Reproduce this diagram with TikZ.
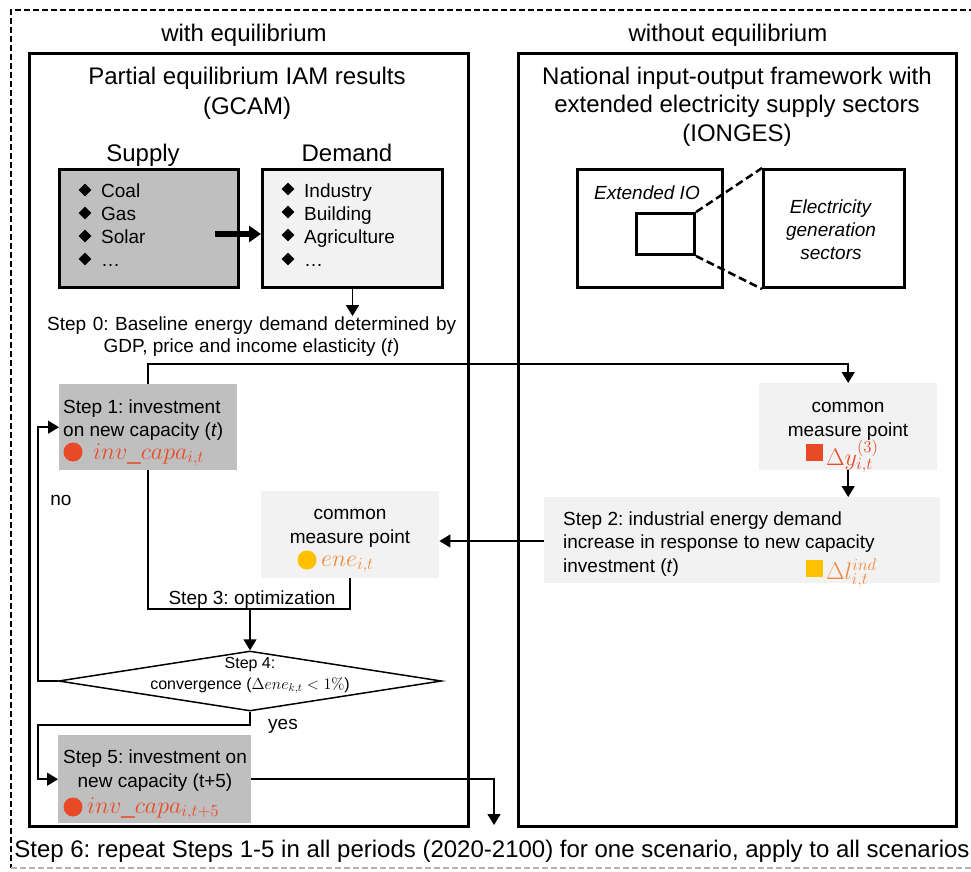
\RequirePackage{fix-cm}
\documentclass[tikz,border=0pt]{standalone}
\usepackage[no-math]{fontspec}
\setmainfont{Liberation Sans}
\usetikzlibrary{arrows.meta,shapes.geometric}
\definecolor{myred}{HTML}{E84A27}
\definecolor{myorange}{HTML}{F08A3C}
\definecolor{myyellow}{HTML}{FFC000}
\definecolor{dgray}{HTML}{BFBFBF}
\definecolor{lgray}{HTML}{F2F2F2}
\begin{document}
\frenchspacing
\begin{tikzpicture}[x=1pt,y=-1pt,
  big/.style={font=\fontsize{24}{29}\selectfont, inner sep=0pt},
  body/.style={font=\fontsize{19}{23}\selectfont, inner sep=0pt},
  small/.style={font=\fontsize{16}{19}\selectfont, inner sep=0pt},
  mathf/.style={font=\fontsize{24}{26}\selectfont, inner sep=0pt},
  thickbox/.style={draw, line width=3pt, inner sep=0pt, anchor=north west},
  fillbox/.style={inner sep=0pt, anchor=north west},
  bul/.style={diamond, fill=black, minimum width=13pt, minimum height=13pt, inner sep=0pt},
  dot/.style={circle, minimum size=19pt, inner sep=0pt},
  sq/.style={minimum size=17pt, inner sep=0pt},
  conn/.style={line width=1.5pt},
  arr/.style={conn, -{Triangle[length=11pt,width=13pt]}},
]
\useasboundingbox (0,0) rectangle (971,872);
% outer dashed frame
\draw[line width=1.2pt, dash pattern=on 6pt off 3pt] (975,10) -- (11,10) -- (11,868);
\draw[line width=1.2pt, gray!60, dash pattern=on 6pt off 3pt] (11,868) -- (975,868);

% headers
\node[big, anchor=base] (hl) at (244,42) {with equilibrium};
\node[big, anchor=base] (hr) at (728,42) {without equilibrium};

% big boxes
\node[thickbox, minimum width=439pt, minimum height=773pt] (lbox) at (28,52) {};
\node[thickbox, minimum width=438pt, minimum height=773pt] (rbox) at (517,52) {};

\node[big, anchor=base] (lt1) at (247,85) {Partial equilibrium IAM results};
\node[big, anchor=base] (lt2) at (247,114) {(GCAM)};
\node[big, anchor=base] (rt1) at (737,85) {National input-output framework with};
\node[big, anchor=base] (rt2) at (737,113) {extended electricity supply sectors};
\node[big, anchor=base] (rt3) at (737,142) {(IONGES)};

% supply / demand
\node[big, anchor=base] (supl) at (143,161) {Supply};
\node[big, anchor=base] (deml) at (347,161) {Demand};
\node[thickbox, fill=dgray, minimum width=179pt, minimum height=118pt] (sup) at (58,168) {};
\node[thickbox, fill=lgray, minimum width=180pt, minimum height=118pt] (dem) at (261,168) {};

\node[bul] (b1) at (85,190) {};
\node[bul] (b2) at (85,213) {};
\node[bul] (b3) at (85,236) {};
\node[bul] (b4) at (85,259) {};
\node[body, anchor=base west] (i1) at (101,197) {Coal};
\node[body, anchor=base west] (i2) at (101,220) {Gas};
\node[body, anchor=base west] (i3) at (101,243) {Solar};
\node[body, anchor=base west] (i4) at (101,266) {\dots};
\node[bul] (d1) at (288,189) {};
\node[bul] (d2) at (288,212) {};
\node[bul] (d3) at (288,235) {};
\node[bul] (d4) at (288,259) {};
\node[body, anchor=base west] (j1) at (304,197) {Industry};
\node[body, anchor=base west] (j2) at (304,220) {Building};
\node[body, anchor=base west] (j3) at (304,243) {Agriculture};
\node[body, anchor=base west] (j4) at (304,266) {\dots};

\coordinate (ta) at (215,234);
\draw[line width=6pt, -{Triangle[length=12pt,width=16pt]}] (ta) -- (dem.west |- ta);

% step 0
\node[body, anchor=base west] (s0a) at (47,330) {\makebox[409pt][s]{Step 0: Baseline energy demand determined by}};
\node[body, anchor=base] (s0b) at (251.5,352) {GDP, price and income elasticity (\textit{t})};
\draw[arr] (dem.south) -- (dem.south |- s0a.north);

% IO boxes
\node[thickbox, minimum width=145pt, minimum height=118pt] (eio) at (576,168) {};
\node[thickbox, minimum width=58pt, minimum height=41pt] (ins) at (635,212) {};
\node[thickbox, minimum width=141pt, minimum height=118pt] (elec) at (762,168) {};
\draw[line width=2.5pt, dash pattern=on 8pt off 4pt] (ins.north east) -- (elec.north west);
\draw[line width=2.5pt, dash pattern=on 8pt off 4pt] (ins.south east) -- (elec.south west);
\node[body, anchor=base] (eiot) at (647,199) {\textit{Extended IO}};
\node[body, anchor=base] (el1) at (831,213) {\textit{Electricity}};
\node[body, anchor=base] (el2) at (831,236) {\textit{generation}};
\node[body, anchor=base] (el3) at (831,259) {\textit{sectors}};

% step 1
\node[fillbox, fill=dgray, minimum width=178pt, minimum height=86pt] (s1) at (59,384) {};
\node[body, anchor=base west] (s1a) at (63,413) {Step 1: investment};
\node[body, anchor=base west] (s1b) at (63,436) {on new capacity (\textit{t})};
\node[dot, fill=myred] (c1) at (73,452) {};
\node[mathf, anchor=base west, text=myred] (s1c) at (93,459) {$inv\_capa_{i,t}$};

% right common measure point
\node[fillbox, fill=lgray, minimum width=178pt, minimum height=87pt] (rcmp) at (759,383) {};
\node[body, anchor=base] (r1) at (848,412) {common};
\node[body, anchor=base] (r2) at (848,436) {measure point};
\node[sq, fill=myred] (q1) at (814.5,452.5) {};
\node[mathf, anchor=base west, text=myred] (r3) at (826,465) {$\Delta y^{(3)}_{i,t}$};

% step 2
\node[fillbox, fill=lgray, minimum width=396pt, minimum height=86pt] (s2) at (544,497) {};
\node[body, anchor=base west] (s2a) at (563,525) {Step 2: industrial energy demand};
\node[body, anchor=base west] (s2b) at (563,548) {increase in response to new capacity};
\node[body, anchor=base west] (s2c) at (563,572) {investment (\textit{t})};
\node[sq, fill=myyellow] (q2) at (814.5,568.5) {};
\node[mathf, anchor=base west, text=myorange] (s2d) at (826,579) {$\Delta l^{ind}_{i,t}$};

% left common measure point
\node[fillbox, fill=lgray, minimum width=178pt, minimum height=87pt] (lcmp) at (261,491) {};
\node[body, anchor=base] (l1) at (350,519) {common};
\node[body, anchor=base] (l2) at (350,543) {measure point};
\node[dot, fill=myyellow] (c2) at (307,560) {};
\node[mathf, anchor=base west, text=myorange] (l3) at (321,566) {$ene_{i,t}$};

% step 3
\node[body, anchor=base] (s3) at (252,604) {Step 3: optimization};

% diamond step 4
\node[diamond, draw, line width=1.5pt, inner sep=0pt, minimum width=383pt, minimum height=60pt] (dia) at (250,681) {};
\node[small, anchor=base] (s4a) at (250,668) {Step 4:};
\node[small, anchor=base] (s4b) at (250,689) {convergence ($\Delta ene_{k,t} < 1\%$)};

\node[body, anchor=base] (no) at (61,505) {no};
\node[body, anchor=base] (yes) at (283,729) {yes};

% step 5
\node[fillbox, fill=dgray, minimum width=193pt, minimum height=88pt] (s5) at (58,735) {};
\node[body, anchor=base] (s5a) at (155,763) {Step 5: investment on};
\node[body, anchor=base] (s5b) at (155,787) {new capacity (t+5)};
\node[dot, fill=myred] (c3) at (73,807) {};
\node[mathf, anchor=base west, text=myred] (s5c) at (87,813) {$inv\_capa_{i,t+5}$};

% step 6
\node[big, anchor=base] (s6) at (492,857) {Step 6: repeat Steps 1-5 in all periods (2020-2100) for one scenario, apply to all scenarios};

% connectors
\draw[arr] (s1.north) -- ++(0,-20) -| (rcmp.north);
\draw[arr] (rcmp.south) -- (rcmp.south |- s2.north);
\draw[arr] (s2.west |- 0,541) -- (lcmp.east |- 0,541);
\coordinate (optj) at (250,609);
\draw[conn] (s1.south) |- (optj) -| (lcmp.south);
\draw[arr] (optj) -- (dia.north);
\coordinate (loopx) at (38,0);
\draw[arr] (dia.west) -| (loopx |- s1.west) -- (s1.west);
\draw[arr] (dia.south) -- ++(0,13) -| (loopx |- s5.west) -- (s5.west);
\coordinate (s6tip) at (494,825);
\draw[arr] (s5.east) -| (s6tip);
\end{tikzpicture}
\end{document}
